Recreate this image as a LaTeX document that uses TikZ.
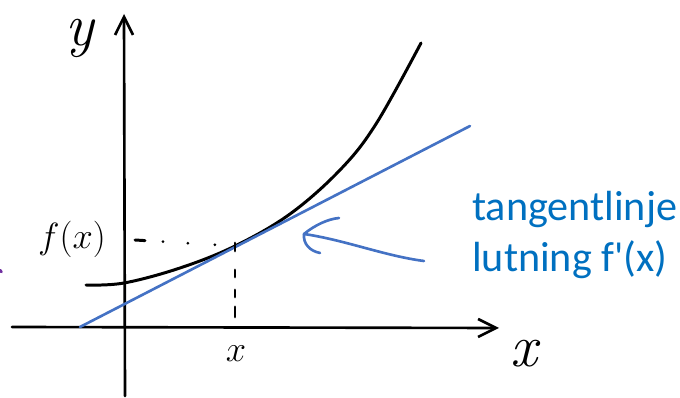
\documentclass[tikz,border=0pt]{standalone}
\usepackage{fontspec}
\newfontfamily\labelfont{Carlito}
\definecolor{penblue}{RGB}{68, 114, 196}
\definecolor{textblue}{RGB}{0, 112, 192}
\definecolor{penpurple}{RGB}{112, 48, 160}
\usetikzlibrary{arrows.meta, positioning}

\begin{document}
\begin{tikzpicture}[x=0.02cm, y=-0.02cm, line cap=round, line join=round,
    axis/.style={draw, line width=1.5pt, -{Straight Barb[length=3.6mm, width=3.6mm, line width=1.5pt]}},
    pen/.style={line width=1.7pt},
    bluepen/.style={draw=penblue, line width=1.5pt},
    handlabel/.style={inner sep=1pt, font=\fontsize{34}{34}\selectfont\itshape},
    ticklabel/.style={font=\fontsize{22}{22}\selectfont}]
        \useasboundingbox (0,0) rectangle (680,398);
        % axes
        \coordinate (xstart) at (12,327);
        \coordinate (xend) at (499,328);
        \coordinate (ystart) at (125,396);
        \coordinate (yend) at (124,14);
        \draw[axis] (xstart) -- (xend);
        \draw[axis] (ystart) -- (yend);
        \node[handlabel] (ylab) at (80,38) {y};
        \node[handlabel] (xlab) at (524,354) {x};
        % graph and tangent
        \coordinate (P) at (235,246);
        \draw[pen] plot[smooth, tension=0.6] coordinates {(86,285) (124,283) (180,268) (P) (290,214) (340,170) (376,124) (421,43)};
        \coordinate (tstart) at (80,327);
        \coordinate (tend) at (470,126);
        \draw[bluepen] (tstart) -- (tend);
        % f(x) and x marks
        \node[ticklabel] (fx) at (72,239) {$f(x)$};
        \node[ticklabel] (xt) at (236,354) {$x$};
        \coordinate (fxend) at (135,240);
        \coordinate (xfoot) at (235,318);
        \draw[pen, dash pattern=on 0.2cm off 0.36cm on 0cm off 0.5cm on 0cm off 0.54cm on 0cm off 1cm] (fxend) -- (P);
        \draw[pen, dash pattern=on 0.16cm off 0.38cm on 0.14cm off 0.26cm on 0.14cm off 0.2cm on 0.2cm off 1cm] ([yshift=0.06cm]P) -- (xfoot);
        % label and hand arrow
        \node[anchor=west, align=left, text=textblue, font=\labelfont\fontsize{24}{28.5}\selectfont] (tlabel) at (466,235) {tangentlinje\\lutning f'(x)};
        \coordinate (atail) at (424,261);
        \coordinate (atip) at (304,234);
        \draw[bluepen] (atail) .. controls (385,256) and (345,240) .. (atip);
        \draw[bluepen] (atip) .. controls (315,225) and (328,219) .. (339,218);
        \draw[bluepen] (atip) .. controls (303,244) and (310,251) .. (320,253);
        \draw[penpurple, line width=1.5pt] (0,270) -- (1.5,272);
      \end{tikzpicture}
\end{document}
